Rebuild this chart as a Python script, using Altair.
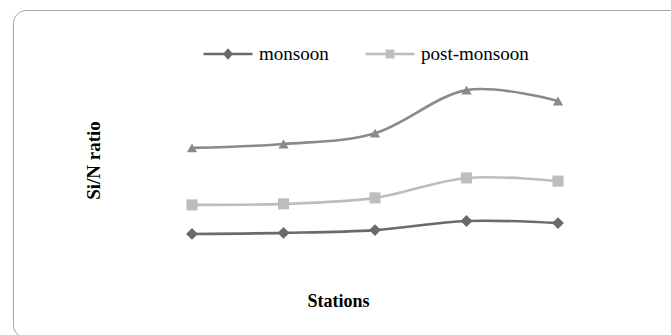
import altair as alt
import pandas as pd

# Si/N ratio at five stations for three seasons
stations = [1, 2, 3, 4, 5]
monsoon = [1.03, 1.06, 1.14, 1.40, 1.34]
post_monsoon = [1.86, 1.89, 2.06, 2.63, 2.54]
pre_monsoon = [3.49, 3.60, 3.91, 5.14, 4.83]

seasons = ["monsoon", "post-monsoon", "pre-monsoon"]
colors = ["#6a6a6a", "#bdbdbd", "#8a8a8a"]
shapes = ["diamond", "square", "triangle-up"]
sizes = [140, 105, 380]

rows = []
for name, vals in zip(seasons, [monsoon, post_monsoon, pre_monsoon]):
    for s, v in zip(stations, vals):
        rows.append({"station": s, "value": v, "season": name})
df = pd.DataFrame(rows)

FONT = "Liberation Serif"

x_enc = alt.X(
    "station:Q",
    scale=alt.Scale(domain=[1, 5], range=[192, 558], nice=False, zero=False),
    axis=alt.Axis(
        title="Stations", labels=False, ticks=False, domain=False, grid=False,
        titleFont=FONT, titleFontSize=18, titleFontWeight="bold", titleColor="#000000",
        titleX=338, titleY=-34, titleAlign="center", titleBaseline="middle",
    ),
)
y_enc = alt.Y(
    "value:Q",
    scale=alt.Scale(domain=[0, 6], range=[270, 60], nice=False, zero=False),
    axis=alt.Axis(
        title="Si/N ratio", labels=False, ticks=False, domain=False, grid=False,
        titleFont=FONT, titleFontSize=19, titleFontWeight="bold", titleColor="#000000",
        titleX=93, titleY=160, titleAngle=270, titleAlign="center", titleBaseline="middle",
    ),
)

season_color = alt.Color(
    "season:N", scale=alt.Scale(domain=seasons, range=colors), legend=None
)

lines = alt.Chart(df).mark_line(interpolate="cardinal", strokeWidth=2.6).encode(
    x=x_enc, y=y_enc, color=season_color
)

points = alt.Chart(df).mark_point(filled=True, opacity=1).encode(
    x=x_enc,
    y=y_enc,
    color=season_color,
    shape=alt.Shape("season:N", scale=alt.Scale(domain=seasons, range=shapes), legend=None),
    size=alt.Size("season:N", scale=alt.Scale(domain=seasons, range=sizes), legend=None),
)

# legend symbols: a line segment with the series marker in the middle
legend_names = seasons[:2]
legend_colors = colors[:2]
diamond_path = "M-1,0L-0.14,0M0.14,0L1,0M0,-0.16L0.14,0L0,0.16L-0.14,0Z"
square_path = "M-1,0L-0.13,0M0.13,0L1,0M-0.13,-0.13L0.13,-0.13L0.13,0.13L-0.13,0.13Z"
symbol_color = "datum.value === '{}' ? '{}' : '{}'".format(
    legend_names[0], legend_colors[0], legend_colors[1]
)

leg = alt.Legend(
    title=None, orient="none", direction="horizontal", legendX=202, legendY=28,
    symbolSize=2400, symbolStrokeWidth=2.5, labelOffset=5, columnPadding=31,
    padding=0, labelFont=FONT, labelFontSize=19, labelColor="#000000",
    symbolFillColor=alt.ExprRef(expr=symbol_color),
    symbolStrokeColor=alt.ExprRef(expr=symbol_color),
    symbolOpacity=1,
)

legend_scale = alt.Scale(domain=legend_names, range=legend_colors)
legend_layer = alt.Chart(df).transform_filter(
    alt.FieldOneOfPredicate(field="season", oneOf=legend_names)
).mark_point(filled=True, opacity=0).encode(
    x=x_enc,
    y=y_enc,
    color=alt.Color("season:N", scale=legend_scale, legend=leg),
    stroke=alt.Stroke("season:N", scale=legend_scale, legend=leg),
    shape=alt.Shape("season:N", scale=alt.Scale(domain=legend_names, range=[diamond_path, square_path]), legend=leg),
)

# rounded frame around the figure
frame = alt.Chart(pd.DataFrame({"k": [0]})).mark_rect(
    fill="transparent", stroke="#a6a6a6", strokeWidth=1, cornerRadius=13
).encode(
    x=alt.value(13.5), x2=alt.value(690), y=alt.value(10.5), y2=alt.value(338)
)

chart = alt.layer(frame, lines, points, legend_layer).resolve_scale(
    color="independent", shape="independent", stroke="independent"
).properties(
    width=671, height=335, autosize=alt.AutoSizeParams(type="none"), padding=0,
    background="white",
).configure_view(stroke=None)

chart.save("out.html", embed_options={"renderer": "svg", "actions": False})
